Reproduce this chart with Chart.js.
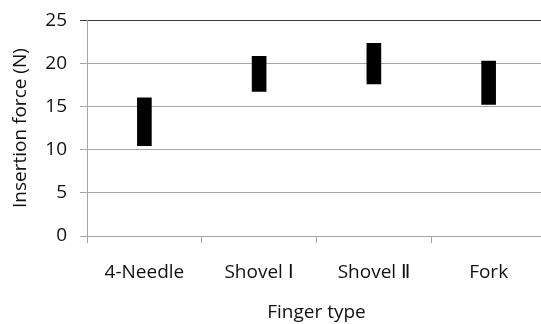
<!DOCTYPE html>
<html>
<head>
<meta charset="utf-8">
<script src="https://cdn.jsdelivr.net/npm/chart.js@4"></script>
<style>
  html, body { margin: 0; padding: 0; background: #fff; overflow: hidden; }
  #wrap { position: relative; width: 546px; height: 324px; }
</style>
</head>
<body>
<div id="wrap"><canvas id="forceChart"></canvas></div>
<script>
(function () {
  'use strict';

  /* global Chart */

  // Finger types on the x axis
  var categories = ['4-Needle', 'Shovel Ⅰ', 'Shovel Ⅱ', 'Fork'];
  // Range of insertion force (N) for each finger type
  var forceLow = [10.45, 16.75, 17.6, 15.25];
  var forceHigh = [16.0, 20.8, 22.3, 20.25];
  // y axis ticks
  var yMin = 0;
  var yMax = 25;
  var yStep = 5;

  var fontFamily = "'Open Sans', sans-serif";
  var textColor = '#111111';
  var gridColor = '#a6a6a6';
  var topLineColor = '#3c3c3c';

  var ranges = forceLow.map(function (lo, i) { return [lo, forceHigh[i]]; });

  new Chart(document.getElementById('forceChart'), {
    type: 'bar',
    data: {
      labels: categories,
      datasets: [{
        data: ranges,
        backgroundColor: '#000000',
        borderWidth: 0,
        barThickness: 14,
      }],
    },
    options: {
      responsive: true,
      maintainAspectRatio: false,
      animation: false,
      layout: { padding: { left: 0, right: 0, top: 20, bottom: 0 } },
      plugins: { legend: { display: false }, tooltip: { enabled: false } },
      scales: {
        x: {
          offset: true,
          afterFit: function (scale) { scale.height = 88; },
          border: { color: gridColor, width: 1 },
          grid: {
            offset: true,
            drawOnChartArea: false,
            tickLength: 7,
            color: gridColor,
          },
          ticks: {
            color: textColor,
            padding: 18,
            maxRotation: 0,
            font: { family: fontFamily, size: 19 },
          },
          title: {
            display: true,
            text: 'Finger type',
            color: textColor,
            padding: { top: 0, bottom: 0 },
            font: { family: fontFamily, size: 19 },
          },
        },
        y: {
          min: yMin,
          max: yMax,
          afterFit: function (scale) { scale.width = 87; },
          border: { color: gridColor, width: 1 },
          grid: {
            tickLength: 7,
            color: function (ctx) {
              return ctx.tick && ctx.tick.value === yMax ? topLineColor : gridColor;
            },
          },
          ticks: {
            stepSize: yStep,
            color: textColor,
            padding: 13,
            // small line height keeps the top label from pushing the plot down
            font: { family: fontFamily, size: 19, lineHeight: 0.75 },
          },
          title: {
            display: true,
            text: 'Insertion force (N)',
            color: textColor,
            padding: { top: 9, bottom: 0 },
            font: { family: fontFamily, size: 19 },
          },
        },
      },
    },
  });
})();
</script>
</body>
</html>
